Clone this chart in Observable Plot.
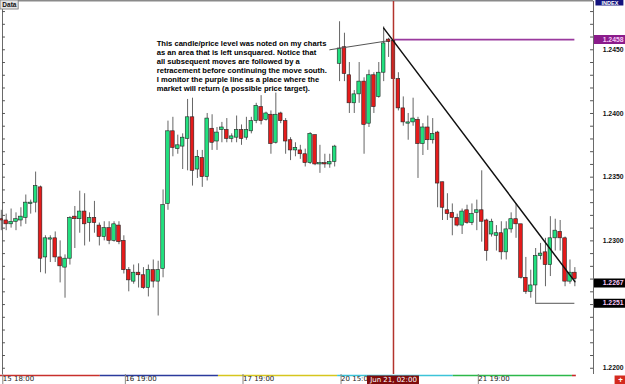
<!DOCTYPE html>
<html><head><meta charset="utf-8">
<script src="https://cdn.jsdelivr.net/npm/d3@7"></script>
<script src="https://cdn.jsdelivr.net/npm/@observablehq/plot@0.6"></script>
<style>
html,body{margin:0;padding:0;background:#fff;}
#chart{width:625px;height:384px;overflow:hidden;}
</style></head><body><div id="chart"></div>
<script>
// Hourly candles, 15 18:00 ... 22 15:00
const open = [
1.2317,1.2316,1.2313,1.2315,1.2316,1.2318,1.2329,1.2330,1.2342,1.2287,
1.2301,1.2302,1.2287,1.2279,1.2286,1.2319,1.2317,1.2323,1.2314,1.2318,
1.2312,1.2303,1.2310,1.2300,1.2312,1.2300,1.2277,1.2268,1.2275,1.2273,
1.2263,1.2277,1.2268,1.2278,1.2329,1.2386,1.2372,1.2374,1.2380,1.2397,
1.2356,1.2365,1.2350,1.2388,1.2378,1.2387,1.2387,1.2380,1.2381,1.2387,
1.2381,1.2386,1.2394,1.2405,1.2395,1.2399,1.2377,1.2400,1.2394,1.2379,
1.2371,1.2371,1.2368,1.2361,1.2383,1.2360,1.2361,1.2360,1.2362,1.2439,
1.2452,1.2430,1.2408,1.2415,1.2425,1.2392,1.2430,1.2413,1.2432,1.2458,
1.2457,1.2427,1.2404,1.2392,1.2393,1.2395,1.2376,1.2389,1.2379,1.2385,
1.2346,1.2324,1.2322,1.2318,1.2312,1.2324,1.2314,1.2322,1.2324,1.2316,
1.2305,1.2304,1.2306,1.2291,1.2309,1.2317,1.2313,1.2271,1.2260,1.2265,
1.2288,1.2291,1.2281,1.2302,1.2307,1.2302,1.2268,1.2275];
const high = [
1.2324,1.2321,1.2325,1.2322,1.2326,1.2336,1.2332,1.2354,1.2343,1.2304,
1.2304,1.2307,1.2300,1.2289,1.2319,1.2327,1.2339,1.2337,1.2322,1.2331,
1.2314,1.2315,1.2315,1.2315,1.2315,1.2304,1.2279,1.2281,1.2282,1.2279,
1.2281,1.2285,1.2284,1.2340,1.2394,1.2397,1.2383,1.2384,1.2411,1.2412,
1.2371,1.2371,1.2400,1.2399,1.2389,1.2393,1.2396,1.2384,1.2398,1.2391,
1.2397,1.2397,1.2408,1.2414,1.2401,1.2402,1.2416,1.2401,1.2396,1.2381,
1.2377,1.2375,1.2372,1.2385,1.2383,1.2375,1.2368,1.2368,1.2375,1.2472,
1.2463,1.2440,1.2418,1.2440,1.2428,1.2434,1.2432,1.2440,1.2468,1.2459,
1.2461,1.2432,1.2413,1.2400,1.2412,1.2397,1.2392,1.2398,1.2396,1.2386,
1.2346,1.2337,1.2329,1.2321,1.2325,1.2328,1.2329,1.2332,1.2355,1.2317,
1.2317,1.2312,1.2315,1.2315,1.2322,1.2329,1.2313,1.2287,1.2277,1.2294,
1.2298,1.2302,1.2319,1.2317,1.2316,1.2303,1.2285,1.2279];
const low = [
1.2308,1.2308,1.2310,1.2308,1.2311,1.2313,1.2321,1.2322,1.2275,1.2274,
1.2283,1.2283,1.2267,1.2255,1.2281,1.2294,1.2306,1.2296,1.2299,1.2306,
1.2296,1.2300,1.2297,1.2299,1.2297,1.2274,1.2260,1.2266,1.2263,1.2262,
1.2256,1.2263,1.2241,1.2271,1.2324,1.2366,1.2368,1.2356,1.2355,1.2343,
1.2349,1.2342,1.2347,1.2371,1.2371,1.2377,1.2377,1.2377,1.2377,1.2375,
1.2379,1.2384,1.2392,1.2391,1.2394,1.2368,1.2376,1.2392,1.2368,1.2363,
1.2366,1.2364,1.2358,1.2360,1.2359,1.2353,1.2357,1.2357,1.2358,1.2425,
1.2425,1.2400,1.2400,1.2408,1.2368,1.2389,1.2400,1.2412,1.2425,1.2444,
1.2422,1.2402,1.2390,1.2379,1.2390,1.2349,1.2367,1.2371,1.2376,1.2326,
1.2316,1.2316,1.2304,1.2311,1.2305,1.2313,1.2312,1.2308,1.2299,1.2284,
1.2303,1.2292,1.2285,1.2285,1.2306,1.2302,1.2270,1.2258,1.2255,1.2251,
1.2285,1.2264,1.2272,1.2292,1.2292,1.2264,1.2266,1.2264];
const close = [
1.2316,1.2313,1.2315,1.2317,1.2319,1.2330,1.2330,1.2343,1.2286,1.2302,
1.2302,1.2287,1.2280,1.2286,1.2318,1.2317,1.2323,1.2313,1.2318,1.2314,
1.2303,1.2310,1.2300,1.2313,1.2299,1.2277,1.2269,1.2275,1.2273,1.2263,
1.2277,1.2268,1.2277,1.2328,1.2386,1.2373,1.2375,1.2381,1.2397,1.2355,
1.2366,1.2350,1.2396,1.2377,1.2385,1.2389,1.2380,1.2382,1.2387,1.2380,
1.2387,1.2394,1.2406,1.2394,1.2400,1.2376,1.2399,1.2394,1.2378,1.2371,
1.2373,1.2368,1.2361,1.2384,1.2360,1.2361,1.2360,1.2362,1.2374,1.2451,
1.2431,1.2408,1.2415,1.2425,1.2391,1.2430,1.2405,1.2432,1.2455,1.2456,
1.2427,1.2404,1.2393,1.2393,1.2396,1.2376,1.2389,1.2379,1.2384,1.2345,
1.2326,1.2321,1.2318,1.2312,1.2323,1.2314,1.2321,1.2324,1.2315,1.2292,
1.2315,1.2306,1.2291,1.2309,1.2317,1.2313,1.2271,1.2260,1.2265,1.2288,
1.2290,1.2281,1.2302,1.2308,1.2302,1.2268,1.2275,1.2270];

const timeTickIndex = [0, 25, 49, 69, 97];
const timeTickLabels = ["15 18:00", "16 19:00", "17 19:00", "20 15:00", "21 19:00"];
const priceTickLabels = [1.2200, 1.2300, 1.2350, 1.2400, 1.2450];
const markerValues = [1.2458, 1.2267, 1.2251];
const markerColors = ["#8b1c8b", "#000000", "#000000"];
const sessionStart = [-0.2, 20.2, 44.3, 68.6, 92.2, 116.5];
const sessionEnd = [20.2, 44.3, 68.6, 92.2, 116.5, 117.3];
const sessionColors = ["#c8302c", "#2b3a9c", "#d6c61e", "#3cc4d8", "#2cb84a", "#c82828"];
const crosshairIndex = 80;
const crosshairLabel = "Jun 21, 02:00";
const purpleLevel = 1.2458, purpleFrom = 80, purpleTo = 117;
const lowLevel = 1.2251, lowFrom = 109, lowTo = 117;
const trendIndex = [78, 117];
const trendPrice = [1.2467, 1.2268];
const pointerIndex = [67, 78.8];
const pointerPrice = [1.2450, 1.2457];
const noteLines = [
  "This candle/price level was noted on my charts",
  "as an area that is left unsquared. Notice that",
  "all subsequent moves are followed by a",
  "retracement before continuing the move south.",
  "I monitor the purple line as a place where the",
  "market will return (a possible price target)."
];
const noteIndex = 31.7, notePrice = 1.24377;

const xMin = 0.245, xMax = 120.8;
const yMin = 1.21951, yMax = 1.24879;

const candles = open.map((o, i) => ({i, o, h: high[i], l: low[i], c: close[i]}));
const minorTicks = d3.range(1220, 1249).map(v => v / 1000);
const sessions = sessionStart.map((s, k) => ({s, e: sessionEnd[k], color: sessionColors[k]}));
const markers = markerValues.map((v, k) => ({v, bg: markerColors[k]}));
const trend = trendIndex.map((x, k) => ({x, y: trendPrice[k]}));
const pointer = pointerIndex.map((x, k) => ({x, y: pointerPrice[k]}));

const GREEN = "#22e07f", RED = "#e61b1b";
const F = "Liberation Sans, Arial, sans-serif";

const chart = Plot.plot({
  width: 625, height: 384,
  marginLeft: 2, marginRight: 32, marginTop: 1, marginBottom: 10,
  x: {domain: [xMin, xMax], axis: null},
  y: {domain: [yMin, yMax], axis: null},
  style: {background: "white", overflow: "visible"},
  marks: [
    Plot.ruleY(sessions, {y: yMin, x1: "s", x2: "e", stroke: "color", strokeWidth: 1.6, dy: 1}),
    Plot.ruleX([xMin, xMax], {stroke: "#6a6a6a", strokeWidth: 1}),
    Plot.ruleY([yMax], {stroke: "#8a8a8a", strokeWidth: 2, dy: -1}),
    Plot.ruleY(minorTicks, {x1: xMin, x2: xMin + 0.6, stroke: "#555"}),
    Plot.ruleY(minorTicks, {x1: xMax - 0.6, x2: xMax, stroke: "#555"}),
    Plot.ruleY([purpleLevel], {x1: purpleFrom, x2: purpleTo, stroke: "#9a3a9e", strokeWidth: 1.6}),
    Plot.ruleY([lowLevel], {x1: lowFrom, x2: lowTo, stroke: "#555", strokeWidth: 1}),
    Plot.ruleX(candles, {x: "i", y1: "l", y2: "h", stroke: "#666", strokeWidth: 1}),
    Plot.rect(candles, {
      x1: d => d.i - 0.37, x2: d => d.i + 0.37, y1: "o", y2: "c",
      fill: d => d.c >= d.o ? GREEN : RED, stroke: "#222", strokeWidth: 0.6
    }),
    Plot.ruleX([crosshairIndex], {stroke: "#b3332c", strokeWidth: 1.5}),
    Plot.line(trend, {x: "x", y: "y", stroke: "#111", strokeWidth: 1.5}),
    Plot.line(pointer, {x: "x", y: "y", stroke: "#555", strokeWidth: 1}),
    Plot.text([noteLines.join("\n")], {
      x: noteIndex, y: notePrice, text: d => d, textAnchor: "start", lineAnchor: "middle",
      lineHeight: 1.2, fontSize: 7.6, fontWeight: "bold", fontFamily: F, fill: "#000"
    }),
    Plot.text(priceTickLabels, {
      y: d => d, frameAnchor: "right", dx: 30, textAnchor: "end",
      text: d => d.toFixed(4), fontSize: 6.8, fontWeight: "bold", fontFamily: F, fill: "#111"
    }),
    Plot.ruleY(markers, {y: "v", x1: xMax + 0.2, x2: xMax + 6.6, stroke: "bg", strokeWidth: 9}),
    Plot.text(markers, {
      y: "v", frameAnchor: "right", dx: 30, textAnchor: "end",
      text: d => d.v.toFixed(4), fontSize: 6.8, fontWeight: "bold", fontFamily: F, fill: "#f6c6f6"
    }),
    Plot.axisX(timeTickIndex, {
      tickFormat: d => timeTickLabels[timeTickIndex.indexOf(d)],
      tickSize: 10, tickPadding: -8, textAnchor: "start", dx: 1.5,
      fontSize: 7, fontFamily: "DejaVu Sans, sans-serif", stroke: "#888", fill: "#222"
    }),
    Plot.ruleY([yMin], {x1: crosshairIndex - 5.3, x2: crosshairIndex + 5.3, dy: 5.5, stroke: "#7e0c0c", strokeWidth: 9}),
    Plot.text([crosshairLabel], {
      x: crosshairIndex, y: yMin, dy: 5.5, text: d => d, fill: "white",
      fontSize: 7, fontFamily: "DejaVu Sans, sans-serif"
    }),
    Plot.ruleY([yMin], {x1: xMax + 4.4, x2: xMax + 6.6, dy: 5.5, stroke: "#d42a1e", strokeWidth: 9}),
    Plot.text(["+"], {x: xMax + 5.5, y: yMin, dy: 5.5, text: d => d, fill: "white", fontSize: 8, fontWeight: "bold"}),
    Plot.rect([0], {x1: xMin - 0.4, x2: xMin + 3.3, y1: yMax + 0.00008, y2: yMax - 0.00063, fill: "#e4e4e4", stroke: "#777", strokeWidth: 0.8}),
    Plot.text(["Data"], {x: xMin + 1.4, y: yMax - 0.00028, text: d => d, fontSize: 6.5, fontWeight: "bold", fontFamily: F, fill: "#111"}),
    Plot.ruleY([yMax], {x1: xMax + 0.5, x2: xMax + 6.2, dy: 1, stroke: "#14147e", strokeWidth: 6}),
    Plot.text(["INDEX"], {x: xMax + 3.35, y: yMax, dy: 1.3, text: d => d, fill: "white", fontSize: 5.5, fontWeight: "bold", fontFamily: F})
  ]
});
document.getElementById("chart").appendChild(chart);
</script>
</body></html>
